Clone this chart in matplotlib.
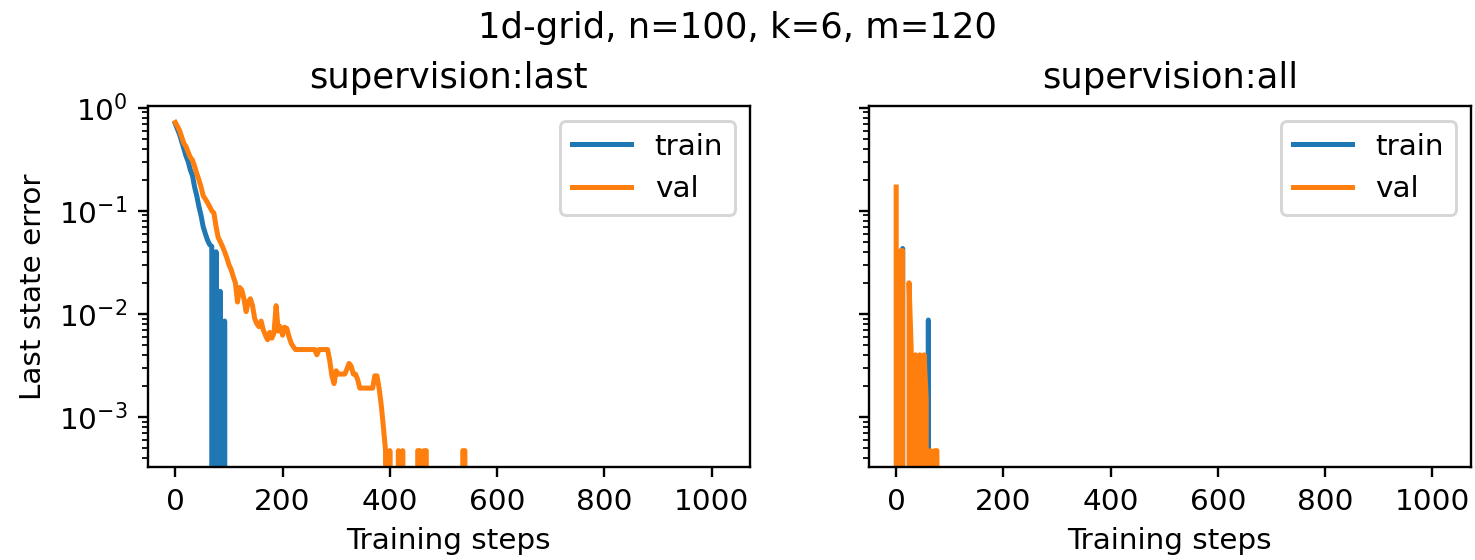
import numpy as np
import matplotlib.pyplot as plt

# logged every 4 training steps
steps = np.arange(0, 1024, 4)

# supervision:last
train_last = [0.70, 0.62, 0.55, 0.47, 0.40, 0.34, 0.30, 0.25, 0.22, 0.17,
              0.14, 0.11, 0.09, 0.07, 0.06, 0.052, 0.047, 0.045, 0, 0.04,
              0, 0.0165, 0, 0.0085, 0]
val_last = [0.72, 0.66, 0.60, 0.52, 0.45, 0.42, 0.37, 0.33, 0.31, 0.27,
            0.23, 0.20, 0.17, 0.14, 0.13, 0.12, 0.11, 0.10, 0.095, 0.07,
            0.055, 0.05, 0.045, 0.04, 0.035, 0.03, 0.027, 0.023, 0.020, 0.013,
            0.018, 0.017, 0.014, 0.0105, 0.013, 0.014, 0.012, 0.009, 0.008, 0.0075,
            0.0085, 0.007, 0.0062, 0.0056, 0.0066, 0.0058, 0.0065, 0.012, 0.0068, 0.0075,
            0.0062, 0.0074, 0.0072, 0.006, 0.0052, 0.0048, 0.0045, 0.0045, 0.0045, 0.0045,
            0.0045, 0.0045, 0.0045, 0.0045, 0.0045, 0.0045, 0.004, 0.0045, 0.0045, 0.0045,
            0.0045, 0.0045, 0.0035, 0.0025, 0.0021, 0.0028, 0.0026, 0.0026, 0.0026, 0.0026,
            0.0029, 0.0033, 0.0031, 0.0026, 0.0026, 0.0023, 0.0019, 0.0019, 0.0019, 0.0019,
            0.0019, 0.0019, 0.0019, 0.0025, 0.0025, 0.0019, 0.0013, 0.0008, 0.00047, 0,
            0.00047, 0, 0, 0, 0.00047, 0, 0.00047, 0, 0, 0,
            0, 0, 0, 0.00047, 0.00047, 0, 0.00047, 0.00047, 0, 0,
            0, 0, 0, 0, 0, 0, 0, 0, 0, 0,
            0, 0, 0, 0, 0.00047, 0.00047, 0]

# supervision:all
train_all = [0, 0, 0, 0.043, 0, 0, 0, 0, 0, 0,
             0, 0, 0, 0, 0, 0.0087, 0]
val_all = [0.17, 0, 0.041, 0.041, 0, 0, 0.020, 0.0045, 0, 0.004,
           0, 0.004, 0, 0.004, 0.0015, 0, 0.00047, 0, 0.00047, 0.00047, 0]


def pad(vals):
    # after the listed points every logged value is 0
    return np.array(vals + [0.0] * (len(steps) - len(vals)))


dpi = 212
fig, axes = plt.subplots(1, 2, sharey=True, figsize=(1475 / dpi, 560 / dpi), dpi=dpi)
fig.subplots_adjust(left=0.1003, right=0.997, bottom=0.166, top=0.8107, wspace=0.198)

panels = [("supervision:last", train_last, val_last),
          ("supervision:all", train_all, val_all)]
for ax, (name, tr, va) in zip(axes, panels):
    ax.plot(steps, pad(tr), lw=1.7, label="train")
    ax.plot(steps, pad(va), lw=1.7, label="val")
    ax.set_yscale("log")
    ax.set_title(name)
    ax.set_xlabel("Training steps")
    ax.legend(loc="upper right")

axes[0].set_ylabel("Last state error")
fig.suptitle("1d-grid, n=100, k=6, m=120")

plt.savefig("out.png", dpi=dpi)
